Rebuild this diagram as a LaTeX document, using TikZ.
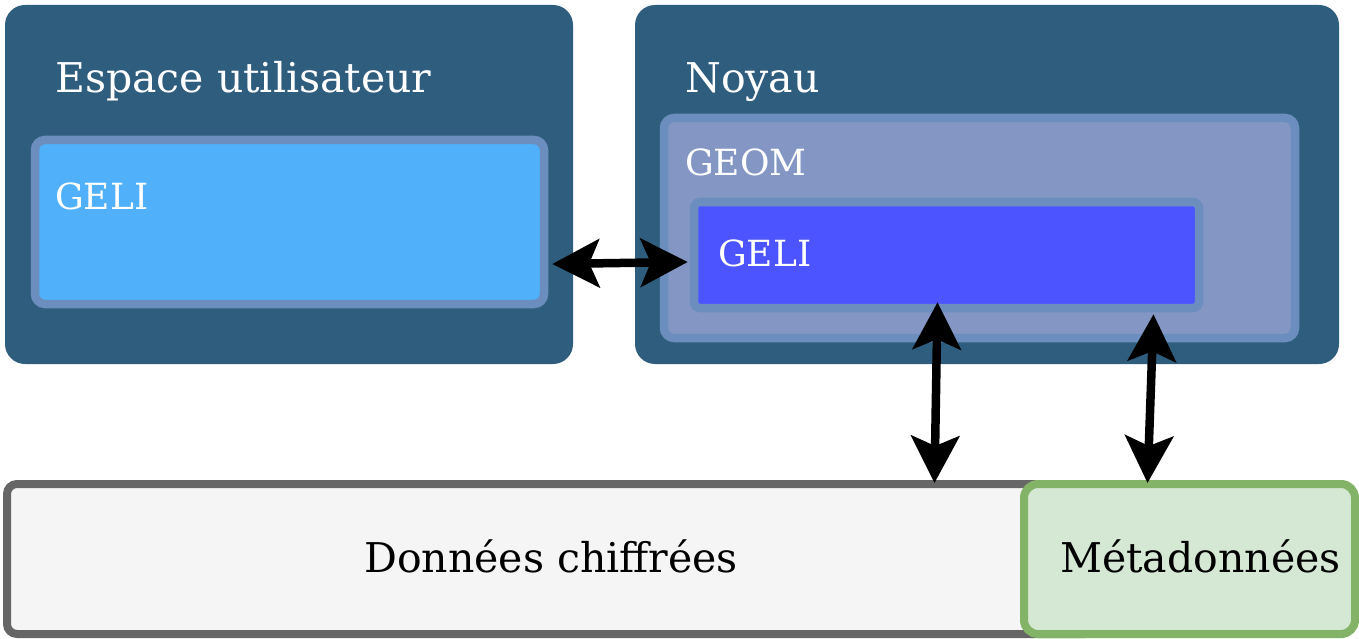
\documentclass[tikz,border=0pt]{standalone}
\usepackage{fontspec}
\setmainfont{DejaVu Serif}
\usetikzlibrary{arrows.meta, calc, positioning}

\definecolor{zonefond}{RGB}{47,93,126}
\definecolor{bordbleu}{RGB}{108,142,191}
\definecolor{geliclair}{RGB}{80,177,250}
\definecolor{geomfond}{RGB}{132,151,196}
\definecolor{gelifonce}{RGB}{76,84,255}
\definecolor{grisbord}{RGB}{102,102,102}
\definecolor{grisfond}{RGB}{245,245,245}
\definecolor{vertbord}{RGB}{130,179,102}
\definecolor{vertfond}{RGB}{213,232,212}

\begin{document}
\begin{tikzpicture}[x=1pt, y=-1pt,
		zone/.style={fill=zonefond, rounded corners=20pt, inner sep=0pt},
		bloc/.style={line width=8.5pt, rounded corners=10pt, inner sep=0pt},
		titre/.style={anchor=base west, inner sep=0pt, text=white, font=\fontsize{41}{48}\selectfont},
		soustitre/.style={titre, font=\fontsize{36}{43}\selectfont},
		fleche/.style={line width=8.5pt, {Stealth[length=47pt,width=48pt,inset=10pt]}-{Stealth[length=47pt,width=48pt,inset=10pt]}}]
	\useasboundingbox (0,0) rectangle (1359,639);

	% espace utilisateur et noyau
	\node[zone, minimum width=568pt, minimum height=359pt] (espace) at (289,184.5) {};
	\node[zone, minimum width=704pt, minimum height=359pt] (noyau) at (987,184.5) {};
	\node[bloc, draw=bordbleu, fill=geliclair, minimum width=509pt, minimum height=164pt] (ugeli) at (289.5,222) {};
	\node[bloc, draw=bordbleu, fill=geomfond, minimum width=631pt, minimum height=220pt] (geom) at (979.5,228) {};
	\node[bloc, draw=bordbleu, fill=gelifonce, rounded corners=6pt, minimum width=505pt, minimum height=106pt] (kgeli) at (946.5,255) {};

	% disque
	\node[bloc, draw=grisbord, fill=grisfond, line width=8pt, minimum width=1088pt, minimum height=150pt] (donnees) at (551,559) {};
	\node[bloc, draw=vertbord, fill=vertfond, line width=8pt, rounded corners=14pt, minimum width=331pt, minimum height=150pt] (meta) at (1189.5,559) {};

	% textes
	\node[titre] (tespace) at (55,93) {Espace utilisateur};
	\node[titre] (tnoyau) at (685,93) {Noyau};
	\node[soustitre] (tgeom) at (685,176) {GEOM};
	\node[soustitre] (tugeli) at (55,209) {GELI};
	\node[soustitre] (tkgeli) at (718,266) {GELI};
	\node[titre, text=black, anchor=base] (tdonnees) at (551,572) {Données chiffrées};
	\node[titre, text=black] (tmeta) at (1060,572) {Métadonnées};

	% flèches
	\draw[fleche] ($(ugeli.east)+(4,42)$) -- ($(kgeli.west)+(-2,7)$);
	\coordinate (k1) at ($(kgeli.south)+(-9,-10)$);
	\draw[fleche] (k1) -- ($(kgeli.south |- donnees.north)+(-12,3)$);
	\draw[fleche] ($(geom.south)+(174,-28)$) -- ($(meta.north)+(-42,3)$);
\end{tikzpicture}
\end{document}
